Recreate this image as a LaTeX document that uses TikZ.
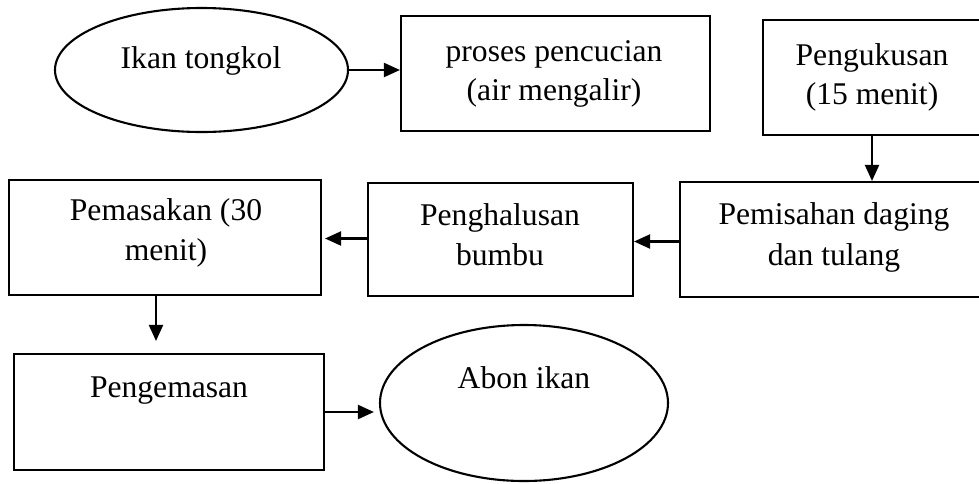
\documentclass[tikz,border=0pt]{standalone}
\usepackage{fontspec}
\setmainfont{Liberation Serif}
\usetikzlibrary{shapes.geometric,arrows.meta}
\begin{document}
\begin{tikzpicture}[x=0.5pt,y=-0.5pt,
  box/.style={draw, line width=1.05pt, rectangle, inner sep=0pt},
  oval/.style={draw, line width=1.05pt, ellipse, inner sep=0pt},
  txt/.style={inner sep=0pt, anchor=base, font=\fontsize{15.8pt}{19pt}\selectfont},
  arr/.style={line width=1.05pt, -{Triangle[length=8pt,width=7pt]}}]
\clip (0,0) rectangle (979,483);
\fill[white] (0,0) rectangle (979,483);
% shapes
\node[oval, minimum width=146.5pt, minimum height=62pt] (e1) at (201.5,70) {};
\node[box, minimum width=154.5pt, minimum height=57.5pt] (b1) at (555.5,73.5) {};
\node[box, minimum width=109pt, minimum height=57.5pt] (b2) at (872,77.5) {};
\node[box, minimum width=154pt, minimum height=57.5pt] (b3) at (834,239.5) {};
\node[box, minimum width=132.5pt, minimum height=56.5pt] (b4) at (500.5,239.5) {};
\node[box, minimum width=156pt, minimum height=57.5pt] (b5) at (165,237.5) {};
\node[box, minimum width=155pt, minimum height=58pt] (b6) at (169,412) {};
\node[oval, minimum width=144pt, minimum height=78pt] (e2) at (524,403) {};
% connectors
\draw[arr] (e1.east) -- (e1.east -| b1.west);
\draw[arr] (b2.south) -- (b2.south |- b3.north);
\draw[arr] ([yshift=-1pt]b3.west) -- ([yshift=-1pt]b3.west -| b4.east);
\draw[arr, shorten >=1.5pt] ([yshift=0.5pt]b4.west) -- ([yshift=0.5pt]b4.west -| b5.east);
\draw[arr, shorten >=6pt] ([xshift=-4.5pt]b5.south) -- ([xshift=-4.5pt]b5.south |- b6.north);
\draw[arr, shorten >=2.5pt] (b6.east) -- (b6.east -| e2.west);
% texts
\node[txt] (t1) at (201,68) {Ikan tongkol};
\node[txt] (t2a) at (554,61) {proses pencucian};
\node[txt] (t2b) at (554,100) {(air mengalir)};
\node[txt] (t3a) at (872,65) {Pengukusan};
\node[txt] (t3b) at (872,104) {(15 menit)};
\node[txt] (t4a) at (834,224) {Pemisahan daging};
\node[txt] (t4b) at (834,265) {dan tulang};
\node[txt] (t5a) at (500,225) {Penghalusan};
\node[txt] (t5b) at (500,265) {bumbu};
\node[txt] (t6a) at (166,220) {Pemasakan (30};
\node[txt] (t6b) at (166,260) {menit)};
\node[txt] (t7) at (169,397) {Pengemasan};
\node[txt] (t8) at (524,388) {Abon ikan};
\end{tikzpicture}
\end{document}
